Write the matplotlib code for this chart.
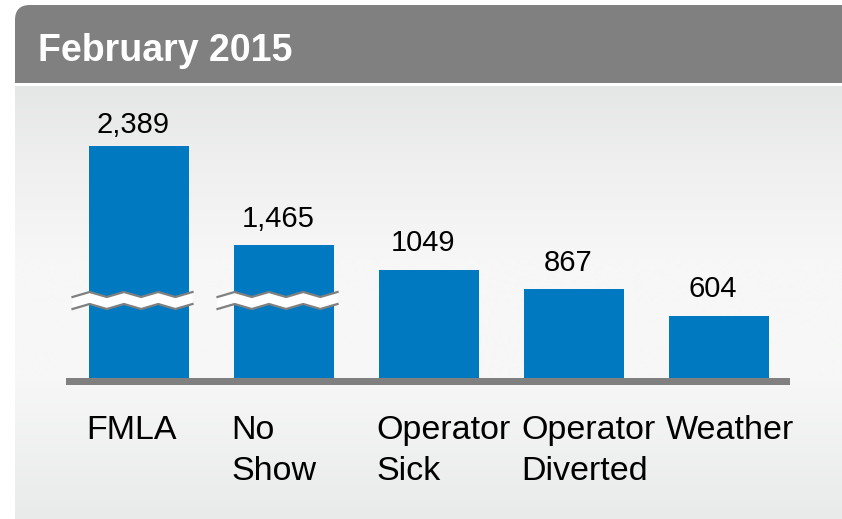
import numpy as np
import matplotlib
matplotlib.use("Agg")
import matplotlib.pyplot as plt
from matplotlib.patches import FancyBboxPatch, Rectangle, Polygon

plt.rcParams['font.family'] = ['Liberation Sans', 'DejaVu Sans']

# data
categories = ['FMLA', 'No\nShow', 'Operator\nSick', 'Operator\nDiverted', 'Weather']
values = [2389, 1465, 1049, 867, 604]
value_labels = ['2,389', '1,465', '1049', '867', '604']
# heights as drawn: the first two bars are cut with a scale break
shown = [2263, 1298, 1049, 867, 604]
broken = [True, True, False, False, False]
label_gap = [13, 18, 19, 18, 19]  # px between bar top and label baseline

title = 'February 2015'
bar_color = '#0079c1'
gray = '#808080'

W, H = 842, 519
fig = plt.figure(figsize=(W / 100, H / 100), dpi=100)

# background layer in pixel coordinates
bg = fig.add_axes([0, 0, 1, 1], zorder=0)
bg.set_xlim(0, W)
bg.set_ylim(H, 0)
bg.axis('off')

header = FancyBboxPatch((15, 5), 900, 120, boxstyle='round,pad=0,rounding_size=15',
                        fc=gray, ec='none')
bg.add_patch(header)
bg.add_patch(Rectangle((0, 83), W, 3, fc='white', ec='none', zorder=2))

stops_y = [86, 160, 260, 380, 519]
stops_c = [(0xe5, 0xe7, 0xe6), (0xee, 0xef, 0xee), (0xf6, 0xf7, 0xf6),
           (0xf6, 0xf7, 0xf6), (0xe9, 0xeb, 0xea)]
ys = np.arange(86, H + 1)
grad = np.stack([np.interp(ys, stops_y, [c[k] for c in stops_c]) for k in range(3)], axis=-1) / 255
bg.imshow(grad[:, None, :], extent=[15, W + 5, H, 86], aspect='auto', zorder=3,
          interpolation='bilinear')
bg.set_xlim(0, W)
bg.set_ylim(H, 0)

bg.text(38, 61, title, color='white', fontsize=27, fontweight='bold', va='baseline',
        ha='left', zorder=5)

# baseline bar
bg.add_patch(Rectangle((66, 378), 724, 7, fc=gray, ec='none', zorder=5))

# chart axes
px_per_unit = 0.1025
base_px, top_px = 378, 86
ax = fig.add_axes([66.5 / W, (H - base_px) / H, 725 / W, (base_px - top_px) / H], zorder=1)
ax.patch.set_alpha(0)
ax.axis('off')
x = np.arange(len(categories))
bw = 100 / 145
ax.bar(x, shown, width=bw, color=bar_color, zorder=2)
ax.set_xlim(-0.5, len(categories) - 0.5)
ax.set_ylim(0, (base_px - top_px) / px_per_unit)

for i, lab in enumerate(value_labels):
    ax.annotate(lab, (x[i], shown[i]), xytext=(-6, label_gap[i]), textcoords='offset pixels',
                ha='center', va='baseline', fontsize=21, color='black')
    ax.annotate(categories[i], (x[i] - bw / 2, 0), xytext=(-3, -37),
                textcoords='offset pixels', ha='left', va='top', fontsize=24.5,
                color='black', linespacing=1.42, annotation_clip=False)


def ydat(px):
    return (base_px - px) / px_per_unit


# zigzag break marks
for i in range(len(categories)):
    if not broken[i]:
        continue
    left = x[i] - bw / 2 - 16.5 / 145
    right = x[i] + bw / 2 + 3.5 / 145
    xs = np.linspace(left, right, 8)
    top = np.array([ydat(297) if k % 2 == 0 else ydat(292) for k in range(8)])
    bot = top - 12 / px_per_unit
    poly = np.concatenate([np.column_stack([xs, top]), np.column_stack([xs[::-1], bot[::-1]])])
    ax.add_patch(Polygon(poly, closed=True, fc='white', ec='none', zorder=3, clip_on=False))
    ax.plot(xs, top, color=gray, lw=1.6, zorder=4, clip_on=False)
    ax.plot(xs, bot, color=gray, lw=1.6, zorder=4, clip_on=False)

fig.savefig('out.png', dpi=100)
